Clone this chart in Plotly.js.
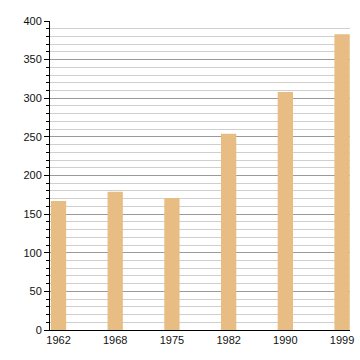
<!DOCTYPE html>
<html>
<head>
<meta charset="utf-8">
<script src="https://cdn.plot.ly/plotly-3.0.1.min.js"></script>
<style>html,body{margin:0;padding:0;background:#fff;}#chart{width:360px;height:360px;}</style>
</head>
<body>
<div id="chart"></div>
<script>
var years = ["1962", "1968", "1975", "1982", "1990", "1999"];
var values = [167, 179, 171, 254, 308, 383];

var trace = {
  type: "bar",
  x: years,
  y: values,
  width: 0.27,
  marker: {color: "#e8bd83", line: {width: 0}},
  hoverinfo: "x+y"
};

var layout = {
  width: 360,
  height: 360,
  margin: {l: 50, r: 10, t: 21, b: 30, pad: 0},
  paper_bgcolor: "#ffffff",
  plot_bgcolor: "#ffffff",
  showlegend: false,
  font: {family: "Liberation Sans, Arial, sans-serif", size: 11, color: "#111"},
  xaxis: {
    type: "category",
    range: [-0.15, 5.14],
    showline: true,
    linecolor: "#000",
    linewidth: 1,
    ticks: "",
    showgrid: false,
    zeroline: false,
    tickfont: {size: 11, color: "#111"},
    ticklabelstandoff: 0
  },
  yaxis: {
    range: [0, 400],
    dtick: 50,
    showline: true,
    linecolor: "#000",
    linewidth: 1,
    ticks: "outside",
    ticklen: 5,
    tickcolor: "#000",
    showgrid: true,
    gridcolor: "#9a9a9a",
    gridwidth: 1,
    zeroline: false,
    tickfont: {size: 11, color: "#111"},
    minor: {dtick: 10, ticks: "outside", ticklen: 3, tickcolor: "#000", showgrid: true, gridcolor: "#cfcfcf", gridwidth: 1}
  }
};

Plotly.newPlot("chart", [trace], layout, {displayModeBar: false, staticPlot: true});
</script>
</body>
</html>
